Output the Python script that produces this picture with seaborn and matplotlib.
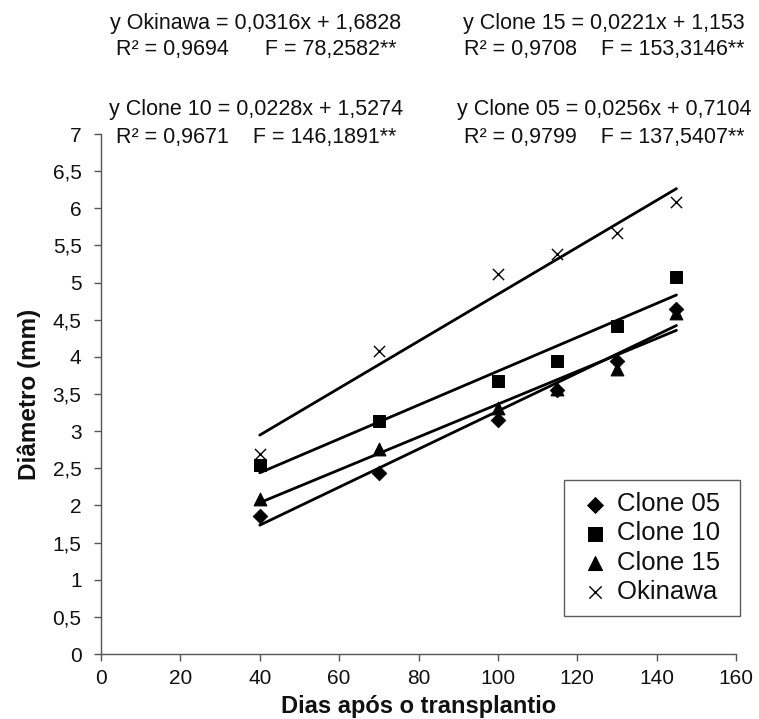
import pandas as pd
import matplotlib
matplotlib.use("Agg")
import matplotlib.pyplot as plt
import seaborn as sns

# days after transplanting
dias = [40, 70, 100, 115, 130, 145]

# measured diameters (mm)
clone05 = [1.86, 2.44, 3.15, 3.56, 3.94, 4.65]
clone10 = [2.55, 3.14, 3.67, 3.95, 4.41, 5.08]
clone15 = [2.08, 2.76, 3.31, 3.57, 3.84, 4.59]
okinawa = [2.69, 4.08, 5.12, 5.38, 5.67, 6.08]

series = ["Clone 05", "Clone 10", "Clone 15", "Okinawa"]
# regression coefficients (slope, intercept) as printed
slopes = [0.0256, 0.0228, 0.0221, 0.0316]
intercepts = [0.7104, 1.5274, 1.153, 1.6828]

df = pd.DataFrame({
    "dias": dias * 4,
    "diametro": clone05 + clone10 + clone15 + okinawa,
    "grupo": sum([[s] * len(dias) for s in series], []),
})

# trend line endpoints from the printed equations
x0, x1 = dias[0], dias[-1]
trend = pd.DataFrame({
    "dias": [x0, x1] * 4,
    "diametro": sum([[m * x0 + b, m * x1 + b] for m, b in zip(slopes, intercepts)], []),
    "grupo": sum([[s, s] for s in series], []),
})

sns.set_style("ticks")
plt.rcParams["font.family"] = ["Liberation Sans", "DejaVu Sans"]

fig = plt.figure(figsize=(7.59, 7.19), dpi=100)
ax = fig.add_axes([0.1331, 0.0904, 0.8366, 0.7232])

sns.lineplot(data=trend, x="dias", y="diametro", units="grupo", estimator=None,
             color="black", linewidth=2, ax=ax, legend=False)

markers = {"Clone 05": "D", "Clone 10": "s", "Clone 15": "^", "Okinawa": "x"}
sizes = {"Clone 05": 55, "Clone 10": 75, "Clone 15": 85, "Okinawa": 65}
for s in series:
    sub = df[df["grupo"] == s]
    kw = dict(edgecolor="black") if s != "Okinawa" else dict(linewidth=1)
    sns.scatterplot(data=sub, x="dias", y="diametro", marker=markers[s], s=sizes[s],
                    color="black", label=s + " ", ax=ax, zorder=3, **kw)

ax.set_xlim(0, 160)
ax.set_ylim(0, 7)
ax.set_xticks(range(0, 161, 20))
yt = [i * 0.5 for i in range(15)]
ax.set_yticks(yt)
ax.set_yticklabels([("%g" % v).replace(".", ",") for v in yt])
ax.tick_params(labelsize=15, length=5, width=1, color="#555555", labelcolor="#111111")
ax.tick_params(axis="x", pad=6)
ax.tick_params(axis="y", pad=9)
for sp in ["left", "bottom"]:
    ax.spines[sp].set_color("#555555")
    ax.spines[sp].set_linewidth(1)
sns.despine(ax=ax)

ax.set_xlabel("Dias após o transplantio", fontsize=17, fontweight="bold", color="#111111")
ax.set_ylabel("Diâmetro (mm)", fontsize=17.5, fontweight="bold", color="#111111")
ax.xaxis.set_label_coords(0.5, -(706 - 654) / 520, transform=ax.transAxes)
ax.yaxis.set_label_coords(-(101 - 29) / 635, 0.5, transform=ax.transAxes)
ax.xaxis.label.set_va("center")
ax.yaxis.label.set_va("center")

leg = ax.legend(loc="lower right", bbox_to_anchor=(1.006, 0.073), borderaxespad=0,
                fontsize=18.5, frameon=True, fancybox=False, edgecolor="#333333",
                handletextpad=0.15, borderpad=0.48, labelspacing=0.2,
                handlelength=1.45, markerscale=1.1)
leg.get_frame().set_linewidth(1)
for t in leg.get_texts():
    t.set_color("#111111")

fs = 15.5
lx, rx = 256 / 759, 604 / 759
rows = [1 - 24 / 719, 1 - 50 / 719, 1 - 109 / 719, 1 - 137 / 719]
txt = dict(ha="center", va="center", fontsize=fs, color="#111111")
fig.text(lx, rows[0], "y Okinawa = 0,0316x + 1,6828", **txt)
fig.text(lx, rows[1], "R² = 0,9694      F = 78,2582**", **txt)
fig.text(rx, rows[0], "y Clone 15 = 0,0221x + 1,153", **txt)
fig.text(rx, rows[1], "R² = 0,9708    F = 153,3146**", **txt)
fig.text(lx, rows[2], "y Clone 10 = 0,0228x + 1,5274", **txt)
fig.text(lx, rows[3], "R² = 0,9671    F = 146,1891**", **txt)
fig.text(rx, rows[2], "y Clone 05 = 0,0256x + 0,7104", **txt)
fig.text(rx, rows[3], "R² = 0,9799    F = 137,5407**", **txt)

fig.savefig("out.png", dpi=100)
